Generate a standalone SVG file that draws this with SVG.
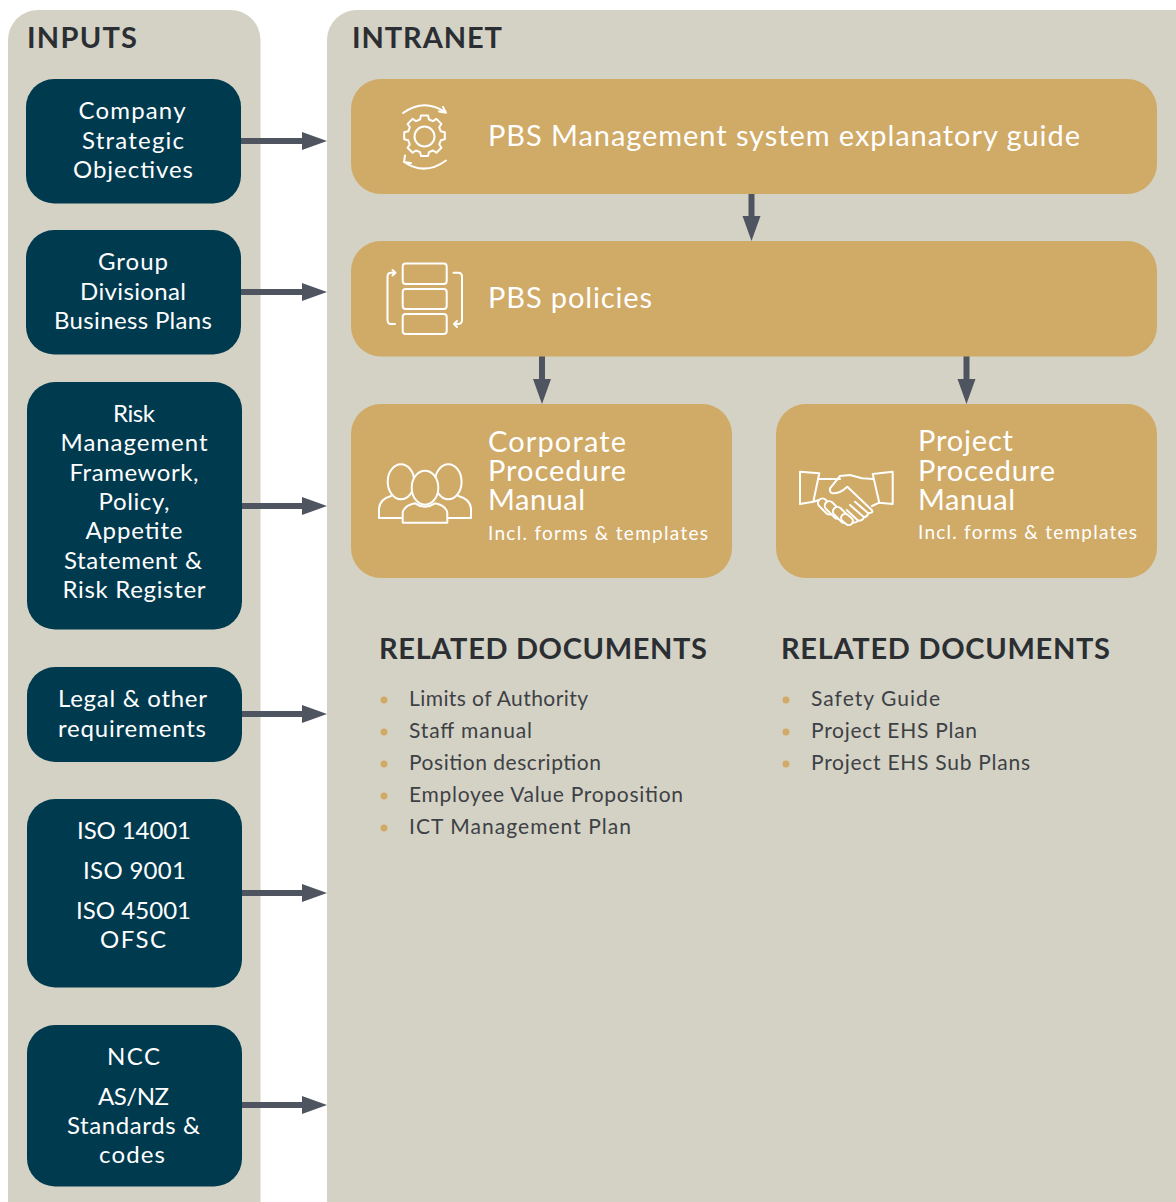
<svg xmlns="http://www.w3.org/2000/svg" width="1176" height="1202" viewBox="0 0 1176 1202">
<style>
text{font-family:"Lato","Noto Sans",sans-serif;transform:translateY(-.6px)}
.panel{fill:#d4d2c4}
.in{fill:#003a4f}
.box{fill:#d0aa67}
.t{fill:#fff;font-size:24px;text-anchor:middle}
.h{fill:#2b2f33;font-size:29px;font-weight:700}
.g{fill:#fff;font-size:29px;letter-spacing:1px}
.s{fill:#fff;font-size:19px}
.li{fill:#3d4146;font-size:21px}
.dot{fill:#d0aa67}
.ic{fill:none;stroke:#fff;stroke-width:2;stroke-linejoin:round;stroke-linecap:round}
.sh{stroke:#4e5460;stroke-width:6;fill:none}
.hd{fill:#4e5460}
</style>
<rect width="1176" height="1202" fill="#fff"/>
<g id="inputs-panel"><rect class="panel" x="8" y="10" width="252.500" height="1230" rx="30"/><text class="h" x="27" y="49" textLength="110">INPUTS</text></g>
<g id="intranet-panel"><rect class="panel" x="327" y="10" width="890" height="1230" rx="30"/><text class="h" x="352" y="49" textLength="150">INTRANET</text></g>
<g id="connectors">
<path class="sh" d="M241 141H304M241 292H304M242 506H304M242 714H304M242 893H304M242 1105H304M751.500 194V218M542 356V381M966.500 356V381"/>
<path class="hd" d="M302 132L327 141L302 150ZM302 283L327 292L302 301ZM302 497L327 506L302 515ZM302 705L327 714L302 723ZM302 884L327 893L302 902ZM302 1096L327 1105L302 1114ZM742.500 216L751.500 241L760.500 216ZM533 379L542 404L551 379ZM957.500 379L966.500 404L975.500 379Z"/>
</g>
<g id="input-company"><rect class="in" x="26" y="79" width="215" height="124.500" rx="28"/><text class="t" x="132" y="120" textLength="107">Company</text><text class="t" x="133" y="149.500" textLength="102">Strategic</text><text class="t" x="133" y="179" textLength="120">Objectives</text></g>
<g id="input-group"><rect class="in" x="26" y="230" width="215" height="124.500" rx="28"/><text class="t" x="133" y="271" textLength="70">Group</text><text class="t" x="133" y="300.500" textLength="106">Divisional</text><text class="t" x="133" y="330" textLength="158">Business Plans</text></g>
<g id="input-risk"><rect class="in" x="27" y="382" width="215" height="247.500" rx="28"/><text class="t" x="134" y="423" textLength="42">Risk</text><text class="t" x="134" y="452" textLength="147">Management</text><text class="t" x="134" y="482" textLength="129">Framework,</text><text class="t" x="134" y="511" textLength="71">Policy,</text><text class="t" x="134" y="540" textLength="97">Appetite</text><text class="t" x="133" y="570" textLength="138">Statement &amp;</text><text class="t" x="134" y="599" textLength="143">Risk Register</text></g>
<g id="input-legal"><rect class="in" x="27" y="667" width="215" height="95" rx="28"/><text class="t" x="132.500" y="708" textLength="149">Legal &amp; other</text><text class="t" x="132" y="737.500" textLength="148">requirements</text></g>
<g id="input-iso"><rect class="in" x="27" y="799" width="215" height="188.500" rx="28"/><text class="t" x="134" y="840" textLength="114">ISO 14001</text><text class="t" x="134.500" y="880" textLength="103">ISO 9001</text><text class="t" x="133.500" y="920" textLength="115">ISO 45001</text><text class="t" x="133" y="949" textLength="66">OFSC</text></g>
<g id="input-ncc"><rect class="in" x="27" y="1025" width="215" height="161.500" rx="28"/><text class="t" x="133.500" y="1066" textLength="53">NCC</text><text class="t" x="133.500" y="1106" textLength="71">AS/NZ</text><text class="t" x="133.500" y="1135" textLength="133">Standards &amp;</text><text class="t" x="132" y="1164" textLength="66">codes</text></g>
<g id="guide"><rect class="box" x="351" y="79" width="806" height="115" rx="30"/>
<g class="ic"><circle cx="424.500" cy="136.500" r="10"/><path d="M421 115.500h7l1 4 4 1.600 3.400-2.200 5 5-2.200 3.400 1.600 4 4 1v7l-4 1-1.600 4 2.200 3.400-5 5-3.400-2.200-4 1.600-1 4h-7l-1-4-4-1.600-3.400 2.200-5-5 2.200-3.400-1.600-4-4-1v-7l4-1 1.600-4-2.200-3.400 5-5 3.400 2.200 4-1.600z"/><path d="M403 113Q424 98 445 112M439 111.500L446 112.700L443 107M404 162Q425 176 446 160.500M405 155.500L404 162L411 163"/></g>
<text class="g" x="488" y="147" textLength="593">PBS Management system explanatory guide</text></g>
<g id="policies"><rect class="box" x="351" y="241" width="806" height="115.500" rx="30"/>
<g class="ic"><rect x="402.700" y="263.500" width="44" height="20.500" rx="3"/><rect x="402.700" y="289" width="44" height="20" rx="3"/><rect x="402.700" y="314" width="44" height="20" rx="3"/><path d="M395 324H391Q387.500 324 387.500 320V276.500Q387.500 272.700 391 272.700H395M392.500 270L395.500 272.700L392.500 275.500M453.500 272.700H458Q462 272.700 462 276.500V320Q462 324 458 324H454M457 321L454 324L457 327"/></g>
<text class="g" x="488" y="309" textLength="165">PBS policies</text></g>
<g id="corporate"><rect class="box" x="351" y="404" width="381" height="174" rx="30"/>
<g class="ic"><ellipse cx="401" cy="481.700" rx="13.300" ry="17.500"/><ellipse cx="448.300" cy="481.700" rx="13.300" ry="17.500"/><ellipse cx="425" cy="487.700" rx="13.300" ry="17" fill="#d0aa67"/><path d="M402.700 522.700V513.500Q403 506 415 503.300Q425 510 435 503.300Q447 506 447.300 513.500V522.700ZM401 518H379V508.300Q380 499 391 496M447.700 518H471V508.300Q470 499 458.300 496"/></g>
<text class="g" x="488" y="453" textLength="139">Corporate</text><text class="g" x="488" y="482" textLength="139">Procedure</text><text class="g" x="488" y="511" textLength="98">Manual</text><text class="s" x="488" y="541" textLength="220">Incl. forms &amp; templates</text></g>
<g id="project"><rect class="box" x="776" y="404" width="381" height="174" rx="30"/>
<g class="ic"><path d="M800 471.700L819.300 473.300L813.300 501.700L800 504ZM892.700 471.700L872.700 474L879.300 502.700L892.700 504Z"/><path d="M819 479H840M873.300 479L862 478.300L850 475L840 476L830 488.300Q829.500 493 833 493.300Q840 493.500 847.300 486.700L871.700 510Q874 513 868.300 513.300L855 501.700M868.300 513.300Q867 517 864 517.300L850 505M864 517.300Q862.700 520.700 858.300 520.700L846.700 510M858.300 520.700Q855 523.300 851.700 522.700L846.700 519.300M879.300 502.700L872 506M813.300 501.700L819 500"/><g fill="#d0aa67"><rect x="816.500" y="502" width="19" height="9" rx="4.500" transform="rotate(45 826 506.500)"/><rect x="823" y="505.500" width="21" height="9" rx="4.500" transform="rotate(45 833.500 510)"/><rect x="831.500" y="510.500" width="19" height="9" rx="4.500" transform="rotate(45 841 515)"/><rect x="840.500" y="515.500" width="13" height="8" rx="4" transform="rotate(40 847 519.500)"/></g></g>
<text class="g" x="918" y="452" textLength="96">Project</text><text class="g" x="918" y="482" textLength="138">Procedure</text><text class="g" x="918" y="511" textLength="98">Manual</text><text class="s" x="918" y="540" textLength="219">Incl. forms &amp; templates</text></g>
<g id="related-corporate"><text class="h" x="379" y="660" textLength="328">RELATED DOCUMENTS</text>
<circle class="dot" cx="384" cy="700" r="3.500"/><circle class="dot" cx="384" cy="732" r="3.500"/><circle class="dot" cx="384" cy="764" r="3.500"/><circle class="dot" cx="384" cy="796" r="3.500"/><circle class="dot" cx="384" cy="828" r="3.500"/>
<text class="li" x="409" y="707" textLength="179">Limits of Authority</text><text class="li" x="409" y="739" textLength="123">Staff manual</text><text class="li" x="409" y="771" textLength="192">Position description</text><text class="li" x="409" y="803" textLength="274">Employee Value Proposition</text><text class="li" x="409" y="835" textLength="222">ICT Management Plan</text></g>
<g id="related-project"><text class="h" x="781" y="660" textLength="329">RELATED DOCUMENTS</text>
<circle class="dot" cx="786" cy="700" r="3.500"/><circle class="dot" cx="786" cy="732" r="3.500"/><circle class="dot" cx="786" cy="764" r="3.500"/>
<text class="li" x="811" y="707" textLength="129">Safety Guide</text><text class="li" x="811" y="739" textLength="166">Project EHS Plan</text><text class="li" x="811" y="771" textLength="219">Project EHS Sub Plans</text></g>
</svg>
